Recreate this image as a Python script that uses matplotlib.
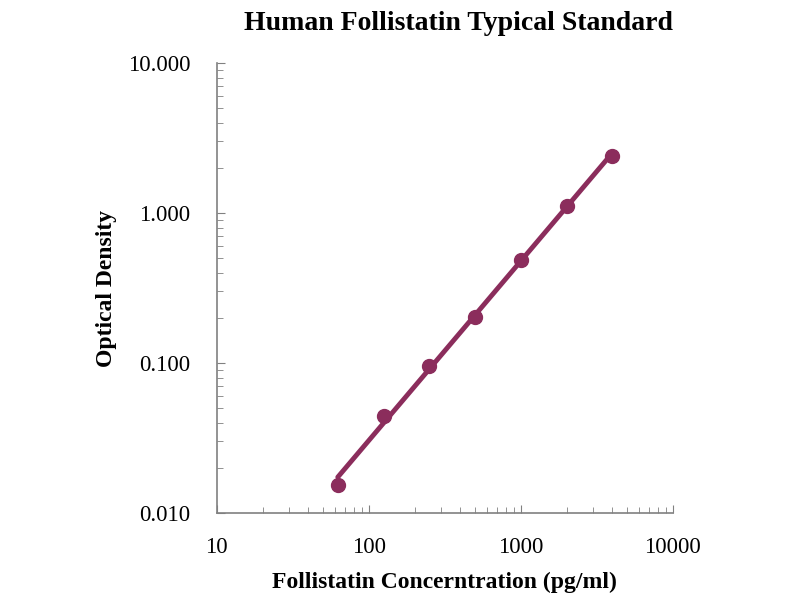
import matplotlib.pyplot as plt
import numpy as np
from matplotlib.ticker import FixedLocator, LogLocator, NullFormatter

plt.rcParams['font.family'] = ['Liberation Serif', 'DejaVu Serif']

# Standard curve data
concentration = [62.5, 125, 250, 500, 1000, 2000, 4000]
optical_density = [0.0154, 0.0444, 0.0955, 0.203, 0.486, 1.114, 2.40]
x_ticks = [10, 100, 1000, 10000]
y_ticks = [0.01, 0.1, 1, 10]
y_tick_labels = ["0.010", "0.100", "1.000", "10.000"]

color = "#8b2d5c"

fig = plt.figure(figsize=(8, 6), dpi=100)
ax = fig.add_axes([0.271, 0.145, 0.570, 0.750])

# power trendline through the standards
slope, intercept = np.polyfit(np.log10(concentration), np.log10(optical_density), 1)
fit_x = np.array([concentration[0], concentration[-1]])
fit_y = 10 ** (intercept + slope * np.log10(fit_x))
ax.plot(fit_x, fit_y, color=color, linewidth=3.5, solid_capstyle="round", zorder=2)
ax.plot(concentration, optical_density, "o", color=color, markersize=10, zorder=3)

ax.set_xscale("log")
ax.set_yscale("log")
ax.set_xlim(10, 10000)
ax.set_ylim(0.01, 10)

ax.xaxis.set_major_locator(FixedLocator(x_ticks))
ax.set_xticklabels([str(v) for v in x_ticks])
ax.yaxis.set_major_locator(FixedLocator(y_ticks))
ax.set_yticklabels(y_tick_labels)
ax.xaxis.set_minor_locator(LogLocator(base=10, subs=np.arange(2, 10)))
ax.yaxis.set_minor_locator(LogLocator(base=10, subs=np.arange(2, 10)))
ax.xaxis.set_minor_formatter(NullFormatter())
ax.yaxis.set_minor_formatter(NullFormatter())

for side in ["top", "right"]:
    ax.spines[side].set_visible(False)
for side in ["left", "bottom"]:
    ax.spines[side].set_color("#808080")
    ax.spines[side].set_linewidth(1.2)

ax.tick_params(which="major", direction="in", length=6, color="#808080",
               labelsize=16.5)
ax.tick_params(axis="x", which="major", pad=17)
ax.tick_params(axis="y", which="major", pad=19)
ax.tick_params(which="minor", direction="in", length=4, color="#808080")

ax.set_title("Human Follistatin Typical Standard", fontsize=20,
             fontweight="bold", pad=24, x=0.53)
ax.set_xlabel("Follistatin Concerntration (pg/ml)", fontsize=17,
              fontweight="bold", labelpad=10)
ax.set_ylabel("Optical Density", fontsize=17, fontweight="bold", labelpad=8)

fig.savefig("out.png", dpi=100)
